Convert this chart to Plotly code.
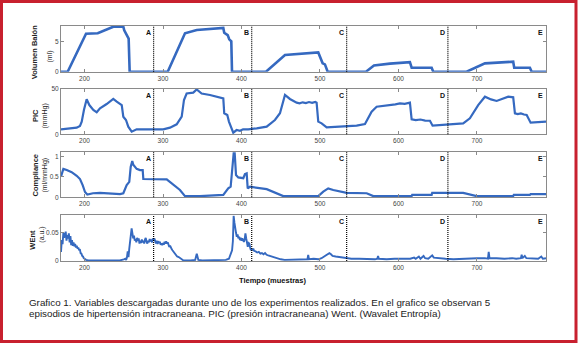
import plotly.graph_objects as go
from plotly.subplots import make_subplots

# ---- shared axis settings -------------------------------------------------
x_range = [170, 788]
x_ticks = [200, 300, 400, 500, 600, 700]
event_labels = ["A", "B", "C", "D", "E"]
event_pos = [288, 413, 534, 663, 788]

# ---- balloon volume (ml) ---------------------------------------------------
vol_t = [170, 178.5, 201.9, 216.8, 236.6, 249.4, 250.6, 253.7, 255, 256.2, 257.5,
         306, 328, 343, 376.8, 378, 382.4, 384.4, 387, 387.9,
         431.2, 455.4, 497.8, 500, 503.4, 506.3, 509.8,
         558.6, 568.8, 589.1, 614.6, 616.8, 642.3, 644.3,
         686.8, 710.2, 746.2, 747.5, 767.5, 769.7, 788]
vol_ml = [0, 0, 6.33, 6.4, 7.5, 7.5, 6.9, 6.1, 5.55, 5.5, 0,
          0, 6.4, 6.95, 7.3, 6.5, 6.1, 5.4, 5.05, 0,
          0, 2.78, 3.22, 2.5, 1.4, 1.22, 0,
          0, 1.05, 1.35, 1.6, 0.67, 0.67, 0,
          0, 1.39, 1.67, 0.67, 0.67, 0, 0]

# ---- intracranial pressure (mmHg) -----------------------------------------
pic_t = [170, 180, 190, 194.2, 196.4, 199.3, 202.7, 206.1, 211.2, 215.5, 219.7,
         228.2, 236.6, 241, 247.4, 249.4, 252.8, 255.7, 260.1, 266.4, 280, 300.3,
         308.9, 317.4, 323.8, 326.7, 330.1, 338.5, 342.9, 349.2, 359.8, 368, 376.8,
         378, 381.9, 384, 386.6, 389.5, 393.8, 398, 402, 408.6, 419.3, 432.1,
         442.6, 449, 455.4, 461.7, 470.3, 474, 478, 482, 486, 490, 494, 495.7,
         497.8, 502.1, 508.5, 530, 546.7, 557.3, 565.8, 572.2, 580, 589.1, 596,
         601.9, 608, 614.6, 616.8, 622, 628, 634, 640.1, 643.5, 660, 682.5, 691,
         701.6, 710.2, 718, 725.1, 732, 739.9, 746.2, 748.4, 752, 756, 760, 763.4,
         768.4, 775, 781, 788]
pic_mmhg = [5.5, 6.4, 7.3, 9.2, 14, 27, 38.6, 32.3, 27, 24.3, 28.7,
            33.4, 39, 36, 32.3, 19.4, 15.8, 8.4, 2.9, 5.5, 5.2, 5.5,
            7.3, 11, 19.4, 37.9, 45, 46, 49.5, 45, 43.4, 41.8, 39.7,
            23.2, 21.3, 14, 8.4, 1.8, 4.7, 3.9, 5.6, 5.5, 6.6, 8.4,
            15.8, 23.2, 43.4, 39, 34.9, 34.2, 35.3, 34.5, 35.6, 34.8, 35.8, 34.9,
            14, 12.1, 7.7, 8.6, 9.5, 11.4, 25, 30.5, 31.2, 32.3, 33.1,
            34.2, 33.6, 34.9, 16.5, 15.6, 16.3, 15.2, 15, 9.5, 10.6, 12.1, 17.7,
            32.3, 41.5, 38.5, 36.8, 38.9, 41.5, 40.8, 23.2, 22.3, 23.0, 21.8, 21.3,
            12.8, 13.4, 13.2, 14]

# ---- compliance (ml/mmHg) --------------------------------------------------
comp_t = [170, 173, 177.3, 183.6, 190, 194.2, 197.6, 200.6, 203.5, 210.8, 219.7,
          232.5, 245.2, 249.4, 251.5, 253.7, 257, 258.8, 260.8, 262.1, 266.4,
          270.6, 274.1, 274.9, 304.7, 308.9, 321.6, 328, 347.1, 376.8, 383.1,
          386.2, 388.7, 390.8, 393, 395.9, 402.3, 404.4, 406.6, 407.9, 410.8,
          419.3, 432.1, 453.2, 497.8, 504.2, 510.5, 516.9, 525.4, 534, 559.5,
          567.9, 616.8, 617.5, 642.3, 643, 682.5, 699.6, 746.2, 747, 767.5,
          768.5, 788]
comp_val = [0.51, 0.7, 0.67, 0.62, 0.53, 0.45, 0.3, 0.13, 0.07, 0.1, 0.11,
            0.09, 0.08, 0.1, 0.2, 0.3, 0.38, 0.75, 0.89, 0.8, 0.7,
            0.67, 0.67, 0.45, 0.44, 0.38, 0.18, 0.03, 0.03, 0.06, 0.22,
            0.26, 0.8, 1.25, 0.55, 0.49, 0.47, 0.57, 0.59, 0.22, 0.26,
            0.24, 0.2, 0.03, 0.03, 0.14, 0.22, 0.18, 0.14, 0.11, 0.1,
            0.03, 0.03, 0.06, 0.06, 0.11, 0.11, 0.03, 0.03, 0.06, 0.06,
            0.08, 0.08]

# ---- wavelet entropy (a.u.) ------------------------------------------------
went_t = [170, 171, 172, 173, 174, 175, 176, 177, 178, 179, 180, 181, 182, 183,
          184, 185, 186, 187, 188, 189, 190, 191, 192, 193, 194, 195, 196, 197,
          198, 199, 200, 202, 205, 215, 225, 235, 245, 250, 252, 253, 254, 255,
          256, 257, 258, 259, 260, 261, 262, 263, 264, 265, 266, 267, 268, 269,
          270, 271, 272, 273, 274, 275, 276, 277, 278, 279, 280, 281, 282, 283,
          284, 285, 286, 287, 288, 289, 290, 291, 292, 293, 294, 295, 296, 297,
          298, 299, 300, 301, 302, 303, 304, 305, 306, 307, 308, 309, 310, 311,
          312, 313, 314, 315, 316, 318, 320, 322, 324, 326, 335, 341, 343, 345,
          350, 370, 380, 384, 386, 388, 389, 390, 391, 392, 393, 394, 395, 396,
          397, 398, 399, 400, 401, 402, 403, 404, 405, 406, 407, 408, 409, 410,
          411, 412, 413, 414, 415, 416, 418, 420, 422, 424, 426, 428, 430, 432,
          434, 436, 438, 440, 443, 446, 450, 455, 462, 470, 478, 484, 485, 486,
          492, 498, 502, 505, 508, 510, 512, 514, 516, 520, 525, 530, 534, 540,
          550, 560, 570, 573, 574, 575, 585, 595, 605, 612, 615, 620, 622, 626,
          628, 632, 634, 638, 643, 645, 650, 660, 670, 680, 690, 700, 710, 714,
          715, 716, 725, 735, 745, 750, 756, 757, 758, 761, 763, 770, 778, 782,
          784, 788]
went_val = [0.016, 0.037, 0.030, 0.050, 0.041, 0.047, 0.052, 0.036, 0.046, 0.040,
            0.049, 0.033, 0.044, 0.028, 0.037, 0.027, 0.033, 0.026, 0.030, 0.024,
            0.027, 0.022, 0.024, 0.019, 0.021, 0.014, 0.013, 0.009, 0.008, 0.005,
            0.004, 0.002, 0.001, 0.001, 0.0015, 0.001, 0.001, 0.003, 0.004, 0.002,
            0.006, 0.017, 0.007, 0.022, 0.037, 0.048, 0.058, 0.049, 0.040, 0.045,
            0.036, 0.039, 0.033, 0.041, 0.036, 0.040, 0.031, 0.036, 0.032, 0.038,
            0.033, 0.036, 0.031, 0.038, 0.041, 0.034, 0.031, 0.036, 0.033, 0.039,
            0.035, 0.038, 0.033, 0.040, 0.036, 0.040, 0.034, 0.031, 0.036, 0.030,
            0.035, 0.032, 0.034, 0.029, 0.031, 0.028, 0.032, 0.029, 0.034, 0.031,
            0.035, 0.031, 0.033, 0.028, 0.025, 0.027, 0.022, 0.021, 0.019, 0.017,
            0.015, 0.012, 0.010, 0.008, 0.007, 0.005, 0.003, 0.001, 0.001, 0.002,
            0.013, 0.002, 0.001, 0.001, 0.002, 0.004, 0.010, 0.019, 0.035, 0.080,
            0.068, 0.055, 0.050, 0.043, 0.047, 0.040, 0.043, 0.037, 0.041, 0.036,
            0.040, 0.037, 0.034, 0.038, 0.049, 0.040, 0.030, 0.025, 0.032, 0.031,
            0.024, 0.019, 0.022, 0.019, 0.022, 0.018, 0.017, 0.015, 0.016, 0.013,
            0.014, 0.012, 0.014, 0.011, 0.010, 0.009, 0.008, 0.007, 0.006, 0.004,
            0.003, 0.002, 0.002, 0.003, 0.002, 0.003, 0.011, 0.003, 0.004, 0.003,
            0.005, 0.008, 0.010, 0.012, 0.014, 0.012, 0.009, 0.008, 0.007, 0.006,
            0.005, 0.004, 0.004, 0.003, 0.003, 0.004, 0.009, 0.004, 0.003, 0.004,
            0.004, 0.005, 0.004, 0.006, 0.004, 0.008, 0.004, 0.009, 0.005, 0.004,
            0.010, 0.006, 0.005, 0.004, 0.003, 0.004, 0.004, 0.005, 0.005, 0.004,
            0.016, 0.005, 0.005, 0.004, 0.005, 0.004, 0.005, 0.011, 0.005, 0.009,
            0.005, 0.004, 0.004, 0.008, 0.004, 0.005]

panels = [
    dict(t=vol_t, y=vol_ml, rng=[0, 7.62], ticks=[0, 5], ticktext=["0", "5"],
         title="Volumen Balón", unit="(ml)", width=2.6,
         tpos=(34.8, 52.5), upos=(49.5, 57)),
    dict(t=pic_t, y=pic_mmhg, rng=[0, 50], ticks=[0, 50], ticktext=["0", "50"],
         title="PIC", unit="(mmHg)", width=2.2,
         tpos=(35, 116), upos=(44.5, 116)),
    dict(t=comp_t, y=comp_val, rng=[0, 1.108], ticks=[0, 0.5, 1],
         ticktext=["0", "0.5", "1"],
         title="Compliance", unit="(ml/mmHg)", width=2.2,
         tpos=(34.5, 175), upos=(44.5, 175)),
    dict(t=went_t, y=went_val, rng=[0, 0.081], ticks=[0, 0.05],
         ticktext=["0", "0.05"],
         title="WEnt", unit="(a.u.)", width=1.9,
         tpos=(31.7, 240), upos=(41.7, 235)),
]

# pixel layout of the page (578 x 345)
W, H = 578, 345
L, R, T, B = 61, 32, 26, 84
PW, PH = W - L - R, H - T - B
domains = [(26, 71.7), (89, 134.3), (152.3, 197.3), (215.3, 261)]


def px_x(px):
    return (px - L) / PW


def px_y(py):
    return (H - B - py) / PH


LINE = "#3569c0"
AX = "#8a8a8a"
TICKFONT = dict(family="Liberation Sans, Arial, sans-serif", size=6.5, color="#444")

fig = make_subplots(rows=4, cols=1)
annotations = []
shapes = []

for i, p in enumerate(panels):
    r = i + 1
    fig.add_trace(go.Scatter(x=p["t"], y=p["y"], mode="lines",
                             line=dict(color=LINE, width=p["width"]),
                             showlegend=False, hoverinfo="skip"), row=r, col=1)
    top, bot = domains[i]
    sx = "" if r == 1 else str(r)
    fig.layout["yaxis" + sx].update(
        domain=[max(0, px_y(bot)), min(1, px_y(top))], range=p["rng"],
        tickvals=p["ticks"], ticktext=p["ticktext"], ticks="inside", ticklen=3,
        tickcolor=AX, showline=True, linecolor=AX, linewidth=1, mirror="ticks",
        showgrid=False, zeroline=False, tickfont=TICKFONT)
    fig.layout["xaxis" + sx].update(
        domain=[0, 1], range=x_range, tickvals=x_ticks, ticks="inside", ticklen=3,
        tickcolor=AX, showline=True, linecolor=AX, linewidth=1, mirror="ticks",
        showgrid=False, zeroline=False, tickfont=TICKFONT)

    xr, yr = "x" + sx, "y" + sx
    for lab, pos in zip(event_labels, event_pos):
        if pos < x_range[1]:
            shapes.append(dict(type="line", xref=xr, yref=yr + " domain",
                               x0=pos, x1=pos, y0=0, y1=1,
                               line=dict(color="#000", width=1.2, dash="1px,1px")))
        annotations.append(dict(text="<b>%s</b>" % lab, xref=xr, yref=yr + " domain",
                                x=pos, y=1, xanchor="right", yanchor="top",
                                xshift=-1, yshift=-1, showarrow=False,
                                font=dict(family="Liberation Sans, Arial", size=7,
                                          color="#111")))

    # two-line rotated axis title
    annotations.append(dict(text="<b>%s</b>" % p["title"], xref="paper", yref="paper",
                            x=px_x(p["tpos"][0]), y=px_y(p["tpos"][1]),
                            xanchor="center", yanchor="middle", textangle=-90,
                            showarrow=False,
                            font=dict(family="Liberation Sans, Arial", size=7.5,
                                      color="#222")))
    annotations.append(dict(text=p["unit"], xref="paper", yref="paper",
                            x=px_x(p["upos"][0]), y=px_y(p["upos"][1]),
                            xanchor="center", yanchor="middle", textangle=-90,
                            showarrow=False,
                            font=dict(family="Liberation Sans, Arial", size=7,
                                      color="#222")))

annotations.append(dict(text="<b>Tiempo (muestras)</b>", xref="paper", yref="paper",
                        x=px_x(272), y=px_y(280.7), xanchor="center",
                        yanchor="middle", showarrow=False,
                        font=dict(family="Liberation Sans, Arial", size=7.5,
                                  color="#111")))

caption = ["Grafico 1. Variables descargadas durante uno de los experimentos "
           "realizados. En el grafico se observan 5",
           "episodios de hipertensión intracraneana. PIC (presión intracraneana) "
           "Went. (Wavalet Entropía)"]
for line_text, py in zip(caption, [302.0, 313.6]):
    annotations.append(dict(text=line_text, xref="paper", yref="paper",
                            x=px_x(27), y=px_y(py), xanchor="left",
                            yanchor="middle", showarrow=False,
                            font=dict(family="Liberation Sans, Arial, sans-serif",
                                      size=9.8, color="#222")))

# red frame around figure and caption
shapes.append(dict(type="rect", xref="paper", yref="paper",
                   x0=px_x(1.5), x1=px_x(576), y0=px_y(341.5), y1=px_y(1.5),
                   line=dict(color="#c8202f", width=3), fillcolor="rgba(0,0,0,0)",
                   layer="above"))

fig.update_layout(width=W, height=H, margin=dict(l=L, r=R, t=T, b=B),
                  paper_bgcolor="white", plot_bgcolor="white",
                  annotations=annotations, shapes=shapes, showlegend=False)

fig.write_html("out.html")
